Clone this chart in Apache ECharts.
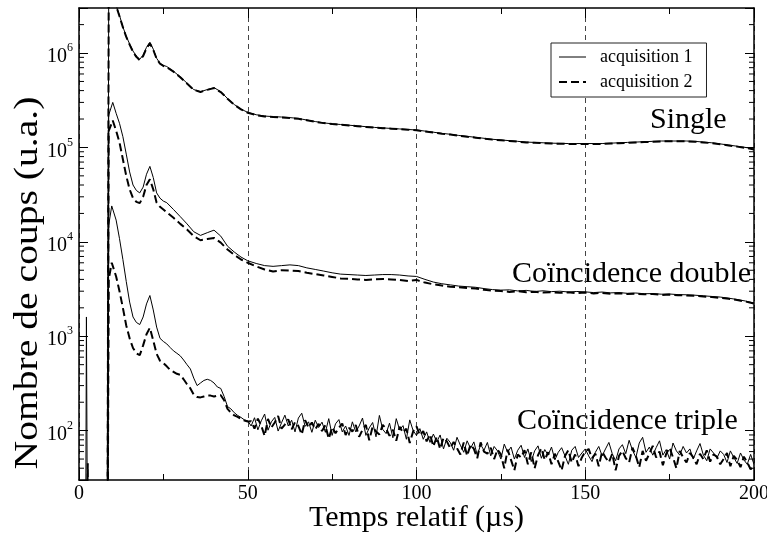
<!DOCTYPE html>
<html><head><meta charset="utf-8">
<script src="https://cdn.jsdelivr.net/npm/echarts@6/dist/echarts.min.js"></script>
<style>html,body{margin:0;padding:0;background:#fff}#c{width:767px;height:533px}</style>
</head><body><div id="c"></div>
<script>
// ---------- data ----------
const xTicks = [0, 50, 100, 150, 200];
const yMajorTicks = [100, 1000, 10000, 100000, 1000000];
const yMinorTicks = [40,50,60,70,80,90,200,300,400,500,600,700,800,900,2000,3000,4000,5000,6000,7000,8000,9000,
  2e4,3e4,4e4,5e4,6e4,7e4,8e4,9e4,2e5,3e5,4e5,5e5,6e5,7e5,8e5,9e5,2e6];

const tSmooth = [0,1.9,2.2,2.6,2.9,8.4,8.8,
  10,11,12,13,14,15,16,17,18,19,20,21,22,23,24,25,26,
  28,30,32,34,36,38,40,42,44,46,48,
  50,52.5,55,57.5,60,62.5,65,67.5,70,72.5,75,77.5,80,82.5,85,87.5,90,92.5,95,97.5,
  100,102.5,105,107.5,110,112.5,115,117.5,120,122.5,125,127.5,130,132.5,135,137.5,140,142.5,145,147.5,
  150,152.5,155,157.5,160,162.5,165,167.5,170,172.5,175,177.5,180,182.5,185,187.5,190,192.5,195,197.5,200];

const singleA1 = [1,1,1600,1,1,1,4.5e6,
  4.2e6,3.2e6,2.5e6,1.9e6,1.5e6,1.25e6,1.05e6,9.3e5,8.6e5,9.5e5,1.15e6,1.3e6,1.1e6,8.8e5,7.8e5,7.4e5,7.2e5,
  6.4e5,5.6e5,4.8e5,4.1e5,3.9e5,4.1e5,4.3e5,3.9e5,3.3e5,2.85e5,2.55e5,
  2.35e5,2.22e5,2.15e5,2.12e5,2.1e5,2.07e5,2.03e5,1.95e5,1.88e5,1.82e5,1.78e5,1.75e5,1.72e5,1.69e5,1.66e5,1.63e5,1.61e5,1.59e5,1.57e5,1.55e5,
  1.53e5,1.49e5,1.45e5,1.41e5,1.38e5,1.34e5,1.31e5,1.28e5,1.25e5,1.22e5,1.2e5,1.18e5,1.16e5,1.14e5,1.13e5,1.12e5,1.11e5,1.105e5,1.1e5,1.1e5,
  1.1e5,1.1e5,1.1e5,1.11e5,1.12e5,1.13e5,1.14e5,1.15e5,1.16e5,1.17e5,1.17e5,1.17e5,1.17e5,1.16e5,1.14e5,1.12e5,1.09e5,1.06e5,1.03e5,1.0e5,9.6e4];

const singleA2 = [1,1,1,45,1,1,4.4e6,
  4.1e6,3.15e6,2.45e6,1.88e6,1.48e6,1.23e6,1.03e6,9.1e5,8.4e5,9.3e5,1.12e6,1.27e6,1.08e6,8.7e5,7.7e5,7.3e5,7.1e5,
  6.35e5,5.55e5,4.75e5,4.08e5,3.87e5,4.07e5,4.25e5,3.86e5,3.28e5,2.83e5,2.53e5,
  2.33e5,2.2e5,2.13e5,2.1e5,2.08e5,2.05e5,2.01e5,1.94e5,1.87e5,1.81e5,1.77e5,1.74e5,1.71e5,1.68e5,1.65e5,1.62e5,1.6e5,1.58e5,1.56e5,1.54e5,
  1.52e5,1.48e5,1.44e5,1.4e5,1.37e5,1.33e5,1.3e5,1.27e5,1.24e5,1.21e5,1.19e5,1.17e5,1.15e5,1.13e5,1.12e5,1.11e5,1.1e5,1.095e5,1.09e5,1.09e5,
  1.09e5,1.09e5,1.09e5,1.1e5,1.11e5,1.12e5,1.13e5,1.14e5,1.15e5,1.16e5,1.16e5,1.16e5,1.16e5,1.15e5,1.13e5,1.11e5,1.08e5,1.05e5,1.02e5,9.9e4,9.5e4];

const doubleA1 = [1,1,1,1,1,1,2.2e5,
  3.0e5,2.3e5,1.8e5,1.3e5,8.5e4,5.5e4,4.0e4,3.5e4,3.3e4,3.8e4,5.2e4,6.3e4,4.8e4,3.3e4,2.9e4,2.7e4,2.6e4,
  2.2e4,1.85e4,1.55e4,1.28e4,1.17e4,1.25e4,1.33e4,1.15e4,9.0e3,7.8e3,6.9e3,
  6.3e3,5.9e3,5.6e3,5.5e3,5.6e3,5.7e3,5.6e3,5.3e3,5.1e3,4.9e3,4.7e3,4.55e3,4.5e3,4.45e3,4.4e3,4.45e3,4.5e3,4.5e3,4.45e3,4.35e3,
  4.3e3,4.0e3,3.75e3,3.6e3,3.5e3,3.4e3,3.35e3,3.3e3,3.2e3,3.12e3,3.08e3,3.1e3,3.02e3,3.06e3,2.98e3,3.03e3,2.97e3,3.0e3,2.94e3,2.98e3,
  2.95e3,2.9e3,2.94e3,2.88e3,2.9e3,2.85e3,2.87e3,2.82e3,2.83e3,2.79e3,2.8e3,2.76e3,2.75e3,2.72e3,2.68e3,2.64e3,2.6e3,2.53e3,2.45e3,2.36e3,2.25e3];

const doubleA2 = [1,1,1,1,1,1,1.5e5,
  1.93e5,1.5e5,1.13e5,7.5e4,5.0e4,3.6e4,2.9e4,2.65e4,2.57e4,3.0e4,4.0e4,4.6e4,3.6e4,2.6e4,2.35e4,2.2e4,2.05e4,
  1.8e4,1.55e4,1.35e4,1.15e4,1.04e4,1.07e4,1.1e4,9.8e3,8.3e3,7.3e3,6.5e3,
  6.0e3,5.5e3,5.1e3,4.85e3,5.0e3,4.95e3,4.9e3,4.7e3,4.55e3,4.4e3,4.25e3,4.1e3,4.05e3,4.0e3,3.95e3,4.0e3,4.05e3,4.0e3,3.95e3,3.85e3,
  3.95e3,3.7e3,3.55e3,3.45e3,3.35e3,3.3e3,3.25e3,3.2e3,3.1e3,3.05e3,3.02e3,2.95e3,3.0e3,2.92e3,2.96e3,2.9e3,2.93e3,2.88e3,2.92e3,2.86e3,
  2.9e3,2.84e3,2.88e3,2.82e3,2.85e3,2.8e3,2.82e3,2.78e3,2.8e3,2.74e3,2.76e3,2.72e3,2.7e3,2.68e3,2.64e3,2.6e3,2.55e3,2.5e3,2.42e3,2.33e3,2.22e3];

const tTriple = [0,8.4,8.8,9.7,
  11,12,13,14,15,16,17,18,19,20,21,22,23,24,25,26,27,28,29,30,
  31,32,33,34,35,36,37,38,39,40,41,42,43,44,45,46,47,48,49,50,
  51,52,53,54,55,56,57,58,59,60,61,62,63,64,65,66,67,68,69,70,
  71,72,73,74,75,76,77,78,79,80,81,82,83,84,85,86,87,88,89,90,
  91,92,93,94,95,96,97,98,99,100,101,102,103,104,105,106,107,108,109,110,
  111,112,113,114,115,116,117,118,119,120,121,122,123,124,125,126,127,128,129,130,
  131,132,133,134,135,136,137,138,139,140,141,142,143,144,145,146,147,148,149,150,
  151,152,153,154,155,156,157,158,159,160,161,162,163,164,165,166,167,168,169,170,
  171,172,173,174,175,176,177,178,179,180,181,182,183,184,185,186,187,188,189,190,
  191,192,193,194,195,196,197,198,199,200];

const tripleA1 = [1,1,1.5e4,2.4e4,
  1.7e4,1.08e4,6.5e3,3.8e3,2.3e3,1.6e3,1.4e3,1.33e3,1.6e3,2.2e3,2.7e3,1.9e3,1.25e3,950,880,830,760,700,660,620,
  560,500,450,360,300,320,340,350,340,320,290,280,230,180,170,155,145,138,130,127,
  112,137,102,127,150,101,124,138,99,121,146,112,129,97,136,153,111,124,96,129,
  108,123,96,134,89,118,131,97,112,89,124,97,112,136,89,107,122,86,145,103,
  93,120,84,134,102,113,81,130,100,89,105,81,97,75,92,76,90,64,83,75,
  62,85,70,59,78,65,76,55,71,62,75,54,68,61,50,72,59,67,50,62,
  70,52,64,47,61,69,51,63,55,67,49,59,66,54,44,62,68,52,58,64,
  54,47,59,68,54,64,75,57,48,64,71,57,79,62,52,74,85,59,67,55,
  66,78,55,63,50,74,61,55,68,58,64,50,61,73,55,48,64,58,51,61,
  56,46,61,52,45,58,49,44,56,44];

const tripleA2 = [1,1,4.0e3,6.0e3,
  4.3e3,3.0e3,2.0e3,1.3e3,950,750,660,630,800,1050,1230,900,650,550,520,480,440,420,400,390,
  350,310,280,240,227,225,230,235,235,230,235,237,210,170,155,145,140,133,128,125,
  126,105,134,113,88,133,108,122,143,105,116,132,103,123,112,91,129,108,122,103,
  118,99,114,82,109,94,107,119,90,107,98,115,86,102,115,79,110,98,91,115,
  105,88,102,78,110,95,105,74,98,111,89,99,77,91,68,86,64,84,77,65,
  76,65,56,75,54,71,64,51,75,60,57,66,50,63,56,40,63,49,38,56,
  52,62,44,59,40,55,65,49,59,44,57,47,38,54,62,46,56,42,52,60,
  64,51,57,42,60,52,46,57,38,54,61,51,46,66,54,41,61,48,57,69,
  52,60,43,57,66,52,40,61,52,46,58,52,44,57,50,62,47,56,53,44,
  50,58,42,54,49,41,53,46,39,42];

// ---------- chart ----------
const FONT = '"Liberation Serif","Times New Roman",serif';
function pairs(t, v) { return t.map((x, i) => [x, v[i]]); }
const solid = { color: '#000', width: 1 };
const dashed = { color: '#000', width: 2, type: [8, 4] };
function lineSeries(name, data, ls) {
  return { name: name, type: 'line', data: data, symbol: 'none', showSymbol: false,
    lineStyle: ls, itemStyle: { color: '#000' }, animation: false, clip: true, z: 3 };
}

const chart = echarts.init(document.getElementById('c'));
chart.setOption({
  backgroundColor: '#fff',
  animation: false,
  grid: { left: 79, right: 13, top: 8, bottom: 53, show: false, containLabel: false, outerBoundsMode: 'none' },
  legend: {
    data: [{ name: 'acquisition 1', lineStyle: { width: 1 } }, { name: 'acquisition 2', lineStyle: { width: 2 } }],
    orient: 'vertical', left: 551, top: 43,
    itemWidth: 27, itemHeight: 14, itemGap: 7, padding: [5, 14, 6, 7],
    borderColor: '#222', borderWidth: 1, backgroundColor: '#fff',
    itemStyle: { opacity: 0 },
    textStyle: { fontFamily: FONT, fontSize: 18, lineHeight: 18, color: '#000', padding: [0, 0, 0, 9] }
  },
  xAxis: [{
    type: 'value', min: 0, max: 200, interval: 50, position: 'bottom',
    axisLine: { show: true, onZero: false, lineStyle: { color: '#000', width: 1.5 } },
    axisTick: { show: true, inside: true, length: 10, lineStyle: { color: '#000' } },
    minorTick: { show: true, splitNumber: 2, length: 6, lineStyle: { color: '#000' } },
    axisLabel: { fontFamily: FONT, fontSize: 20, color: '#000', margin: 4,
      formatter: v => (xTicks.indexOf(v) >= 0 ? String(v) : '') },
    splitLine: { show: true, lineStyle: { color: '#444', width: 1, type: [5, 4] } },
    name: 'Temps relatif (µs)', nameLocation: 'middle', nameGap: 23, nameMoveOverlap: false,
    nameTextStyle: { fontFamily: FONT, fontSize: 30, color: '#000' }
  }, {
    type: 'value', min: 0, max: 200, interval: 50, position: 'top',
    axisLine: { show: true, onZero: false, lineStyle: { color: '#000', width: 1.5 } },
    axisTick: { show: true, inside: true, length: 10, lineStyle: { color: '#000' } },
    minorTick: { show: true, splitNumber: 2, length: 6, lineStyle: { color: '#000' } },
    axisLabel: { show: false }, splitLine: { show: false }
  }],
  yAxis: [{
    type: 'log', logBase: 10, min: 30, max: 3e6, position: 'left',
    axisLine: { show: true, onZero: false, lineStyle: { color: '#000', width: 1.5 } },
    axisTick: { show: true, inside: true, length: 9, lineStyle: { color: '#000' } },
    axisLabel: {
      margin: 6, color: '#000', padding: [8, 0, 0, 0],
      formatter: function (v) {
        const e = Math.round(Math.log10(v));
        if (Math.abs(Math.log10(v) - e) > 1e-6 || yMajorTicks.indexOf(Math.pow(10, e)) < 0) return '';
        return '{b|10}{s|' + e + '}';
      },
      rich: {
        b: { fontFamily: FONT, fontSize: 20, color: '#000', lineHeight: 30 },
        s: { fontFamily: FONT, fontSize: 12, color: '#000', lineHeight: 12, verticalAlign: 'top' }
      }
    },
    splitLine: { show: false }
  }, {
    type: 'log', logBase: 10, min: 30, max: 3e6, position: 'right',
    axisLine: { show: true, onZero: false, lineStyle: { color: '#000', width: 1.5 } },
    axisTick: { show: true, inside: true, length: 9, lineStyle: { color: '#000' } },
    axisLabel: { show: false }, splitLine: { show: false }
  }],
  graphic: [
    { type: 'text', x: 28, y: 283, rotation: Math.PI / 2, scaleX: 1.2,
      style: { text: 'Nombre de coups (u.a.)', font: '33px ' + FONT, fill: '#000', align: 'center', verticalAlign: 'middle' } },
    { type: 'text', x: 650, y: 120, style: { text: 'Single', font: '30px ' + FONT, fill: '#000', align: 'left', verticalAlign: 'middle' } },
    { type: 'text', x: 512, y: 274, style: { text: 'Coïncidence double', font: '30px ' + FONT, fill: '#000', align: 'left', verticalAlign: 'middle' } },
    { type: 'text', x: 517, y: 421, style: { text: 'Coïncidence triple', font: '30px ' + FONT, fill: '#000', align: 'left', verticalAlign: 'middle' } }
  ],
  series: [
    lineSeries('acquisition 1', pairs(tSmooth, singleA1), solid),
    lineSeries('acquisition 1', pairs(tSmooth, doubleA1), solid),
    lineSeries('acquisition 1', pairs(tTriple, tripleA1), solid),
    lineSeries('acquisition 2', pairs(tSmooth, singleA2), dashed),
    lineSeries('acquisition 2', pairs(tSmooth, doubleA2), dashed),
    lineSeries('acquisition 2', pairs(tTriple, tripleA2), dashed),
    {
      type: 'custom', silent: true, clip: false, animation: false, z: 4,
      data: yMinorTicks.map(v => [0, v]), encode: { x: 0, y: 1 },
      renderItem: function (params, api) {
        const v = api.value(1);
        const pl = api.coord([0, v]);
        const pr = api.coord([200, v]);
        return { type: 'group', children: [
          { type: 'line', shape: { x1: pl[0], y1: pl[1], x2: pl[0] + 5, y2: pl[1] }, style: { stroke: '#000', lineWidth: 1 } },
          { type: 'line', shape: { x1: pr[0], y1: pr[1], x2: pr[0] - 5, y2: pr[1] }, style: { stroke: '#000', lineWidth: 1 } }
        ] };
      }
    }
  ]
});
</script></body></html>
